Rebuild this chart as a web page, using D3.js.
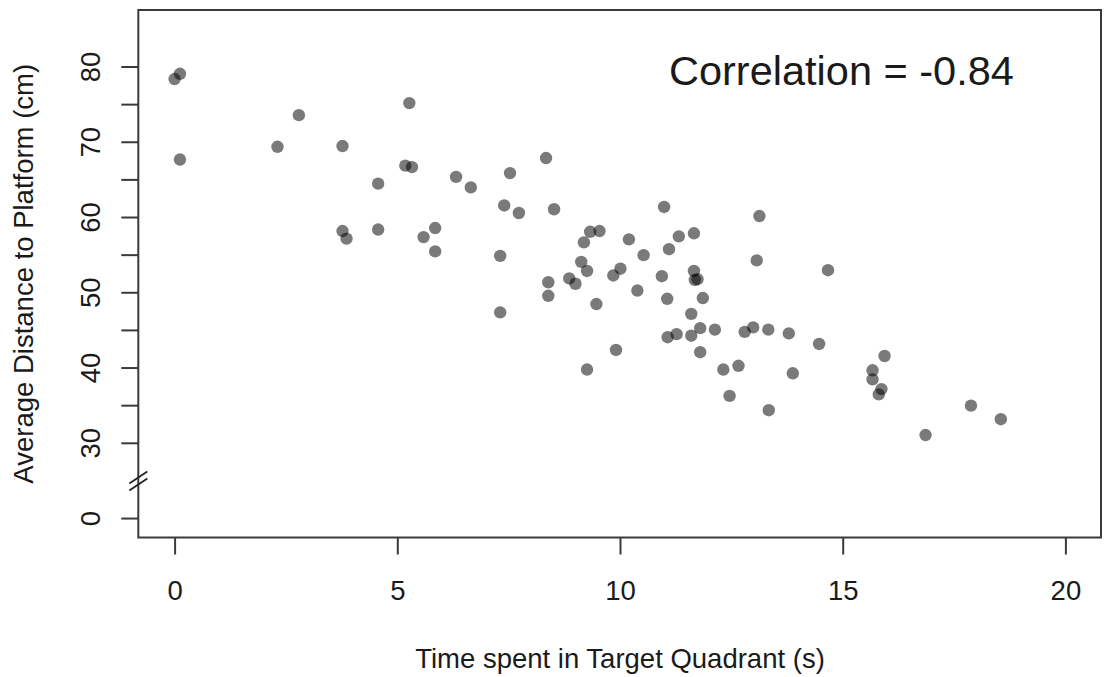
<!DOCTYPE html>
<html>
<head>
<meta charset="utf-8">
<script src="https://cdn.jsdelivr.net/npm/d3@7"></script>
<style>
  html, body { margin: 0; padding: 0; background: #ffffff; }
  svg { display: block; }
  text { font-family: "Liberation Sans", Arial, Helvetica, sans-serif; fill: #1a1a1a; }
</style>
</head>
<body>
<svg id="chart" width="1107" height="677"></svg>
<script>
// ---- data ----
const timeInQuadrant = [
  0.00, 0.12, 0.12, 2.31, 2.79, 3.77, 3.77, 3.86, 4.57, 4.57,
  5.18, 5.27, 5.33, 5.59, 5.85, 5.85, 6.32, 6.65, 7.31, 7.31,
  7.40, 7.53, 7.73, 8.34, 8.39, 8.39, 8.52, 8.86, 9.00, 9.13,
  9.19, 9.26, 9.26, 9.33, 9.47, 9.54, 9.85, 9.91, 10.01, 10.20,
  10.39, 10.53, 10.94, 10.99, 11.06, 11.07, 11.10, 11.27, 11.32, 11.60,
  11.60, 11.66, 11.66, 11.68, 11.74, 11.80, 11.80, 11.86, 12.13, 12.32,
  12.46, 12.66, 12.80, 12.99, 13.07, 13.13, 13.33, 13.34, 13.79, 13.88,
  14.47, 14.67, 15.67, 15.67, 15.81, 15.87, 15.94, 16.86, 17.88, 18.55
];
const avgDistance = [
  78.4, 79.1, 67.7, 69.4, 73.6, 69.5, 58.2, 57.2, 64.5, 58.4,
  66.9, 75.2, 66.7, 57.4, 58.6, 55.5, 65.4, 64.0, 54.9, 47.4,
  61.6, 65.9, 60.6, 67.9, 51.4, 49.6, 61.1, 51.9, 51.2, 54.1,
  56.7, 52.9, 39.8, 58.1, 48.5, 58.2, 52.3, 42.4, 53.2, 57.1,
  50.3, 55.0, 52.2, 61.4, 49.2, 44.1, 55.8, 44.5, 57.5, 47.2,
  44.3, 57.9, 52.9, 51.7, 51.8, 45.3, 42.1, 49.3, 45.1, 39.8,
  36.3, 40.3, 44.8, 45.4, 54.3, 60.2, 45.1, 34.4, 44.6, 39.3,
  43.2, 53.0, 39.7, 38.5, 36.5, 37.2, 41.6, 31.1, 35.0, 33.2
];
const xTicks = [0, 5, 10, 15, 20];
const yTicks = [0, 30, 35, 40, 45, 50, 55, 60, 65, 70, 75, 80];
const yTickLabels = ["0", "30", "", "40", "", "50", "", "60", "", "70", "", "80"];
const correlationLabel = "Correlation = -0.84";
const xTitle = "Time spent in Target Quadrant (s)";
const yTitle = "Average Distance to Platform (cm)";

// ---- layout ----
const svg = d3.select("#chart");
const box = { left: 138.3, right: 1101, top: 10, bottom: 537.5 };

const x = d3.scaleLinear().domain([0, 20]).range([174.6, 1065.4]);
// broken y axis: values >= 30 are linear; 0 is drawn one 10-unit step below 30
const yLin = d3.scaleLinear().domain([30, 80]).range([443.3, 67]);
const y = v => (v === 0 ? yLin(20) : yLin(v));
const breakY = yLin(25);

const tickLen = 17;
const axisColor = "#3a3a3a";

// points
svg.append("g").selectAll("circle")
  .data(timeInQuadrant.map((t, i) => [t, avgDistance[i]]))
  .join("circle")
  .attr("cx", d => x(d[0]))
  .attr("cy", d => y(d[1]))
  .attr("r", 6.2)
  .attr("fill", "rgba(0,0,0,0.52)");

// x axis
const xAxis = d3.axisBottom(x).tickValues(xTicks).tickSize(tickLen).tickPadding(0).tickFormat(d3.format("d"));
const gx = svg.append("g").attr("transform", `translate(0,${box.bottom})`).call(xAxis);
gx.select(".domain").remove();
gx.selectAll(".tick line").attr("stroke", axisColor).attr("stroke-width", 2);
gx.selectAll(".tick text")
  .attr("y", 62.5).attr("dy", null)
  .style("font-size", "27.5px").style("font-family", '"Liberation Sans", Arial, sans-serif')
  .attr("fill", "#1a1a1a");

// y axis
const gy = svg.append("g");
yTicks.forEach((v, i) => {
  gy.append("line")
    .attr("x1", box.left - tickLen).attr("x2", box.left)
    .attr("y1", y(v)).attr("y2", y(v))
    .attr("stroke", axisColor).attr("stroke-width", 2);
  if (yTickLabels[i]) {
    gy.append("text")
      .attr("transform", `translate(100,${y(v)}) rotate(-90)`)
      .attr("text-anchor", "middle")
      .style("font-size", "27.5px")
      .text(yTickLabels[i]);
  }
});

// box
svg.append("rect")
  .attr("x", box.left).attr("y", box.top)
  .attr("width", box.right - box.left).attr("height", box.bottom - box.top)
  .attr("fill", "none").attr("stroke", axisColor).attr("stroke-width", 2);

// axis break marks
[-3.5, 3.5].forEach(off => {
  svg.append("line")
    .attr("x1", box.left - 9).attr("y1", breakY + off + 6)
    .attr("x2", box.left + 9).attr("y2", breakY + off - 6)
    .attr("stroke", "#222").attr("stroke-width", 1.8);
});

// titles
svg.append("text")
  .attr("x", (x(0) + x(20)) / 2).attr("y", 668)
  .attr("text-anchor", "middle")
  .style("font-size", "27.5px")
  .text(xTitle);

svg.append("text")
  .attr("transform", `translate(33,${(box.top + box.bottom) / 2}) rotate(-90)`)
  .attr("text-anchor", "middle")
  .style("font-size", "27.5px")
  .text(yTitle);

svg.append("text")
  .attr("x", 669).attr("y", 85)
  .style("font-size", "41.5px")
  .text(correlationLabel);
</script>
</body>
</html>
